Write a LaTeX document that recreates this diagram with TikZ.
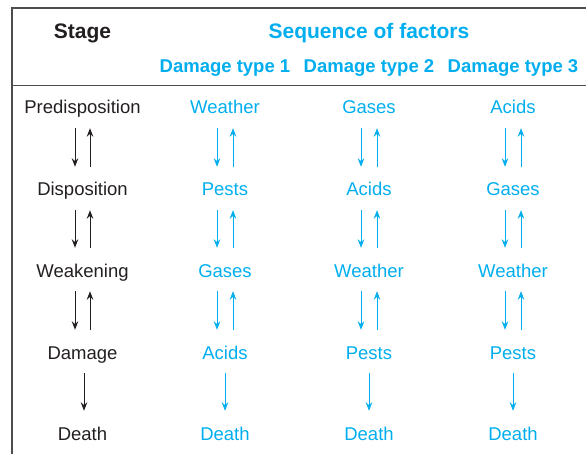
\documentclass[tikz,border=0pt]{standalone}
\usepackage{fontspec}
\setmainfont{Liberation Sans}
\usepackage{tikz}
\usetikzlibrary{arrows.meta}
\definecolor{factcyan}{HTML}{00AEEF}
\definecolor{inkgray}{HTML}{231F20}
\definecolor{rulegray}{HTML}{4D4D4D}

\begin{document}
\begin{tikzpicture}[
  x=1pt, y=1pt,
  every node/.style={font=\fontsize{18.5}{22}\selectfont, inner sep=0pt,
    anchor=base, text height=13pt, text depth=4pt},
  head/.style={font=\fontsize{21}{25}\selectfont\bfseries},
  subhead/.style={font=\fontsize{18.5}{22}\selectfont\bfseries, text=factcyan},
  stage/.style={text=inkgray},
  factor/.style={text=factcyan},
  downarrow/.style={-{Stealth[length=8.5pt,width=6.5pt]}, line width=1pt,
    shorten <=10pt, shorten >=16pt},
  uparrow/.style={{Stealth[length=8.5pt,width=6.5pt]}-, line width=1pt,
    shorten <=10pt, shorten >=16pt},
  blackarrow/.style={draw=inkgray},
  cyanarrow/.style={draw=factcyan}
]
  \useasboundingbox (0,0) rectangle (586,-454);

  % Frame and header rule
  \draw[rulegray, line width=1.2pt] (12,-454) -- (12,-8) -- (586,-8);
  \draw[rulegray, line width=1.2pt] (12,-85.5) -- (586,-85.5);

  % Header
  \node[head, text=inkgray] (stagehead) at (82.5,-39) {Stage};
  \node[head, text=factcyan] (seqhead) at (369,-39) {Sequence of factors};
  \node[subhead] (type1) at (225,-73) {Damage type 1};
  \node[subhead] (type2) at (369,-73) {Damage type 2};
  \node[subhead] (type3) at (513,-73) {Damage type 3};

  % Stage column
  \node[stage] (pre) at (82.5,-114) {Predisposition};
  \node[stage] (dis) at (82.5,-196) {Disposition};
  \node[stage] (weak) at (82.5,-277) {Weakening};
  \node[stage] (dmg) at (82.5,-359) {Damage};
  \node[stage] (dth) at (82.5,-440) {Death};

  % Damage type 1
  \node[factor] (weather1) at (225,-114) {Weather};
  \node[factor] (pests1) at (225,-196) {Pests};
  \node[factor] (gases1) at (225,-277) {Gases};
  \node[factor] (acids1) at (225,-359) {Acids};
  \node[factor] (death1) at (225,-440) {Death};

  % Damage type 2
  \node[factor] (gases2) at (369,-114) {Gases};
  \node[factor] (acids2) at (369,-196) {Acids};
  \node[factor] (weather2) at (369,-277) {Weather};
  \node[factor] (pests2) at (369,-359) {Pests};
  \node[factor] (death2) at (369,-440) {Death};

  % Damage type 3
  \node[factor] (acids3) at (513,-114) {Acids};
  \node[factor] (gases3) at (513,-196) {Gases};
  \node[factor] (weather3) at (513,-277) {Weather};
  \node[factor] (pests3) at (513,-359) {Pests};
  \node[factor] (death3) at (513,-440) {Death};

  % Two-way arrows between stages
  \draw[downarrow, blackarrow] ([xshift=-7.5pt]pre.south) -- ([xshift=-7.5pt]dis.north);
  \draw[uparrow, blackarrow] ([xshift=7.5pt]pre.south) -- ([xshift=7.5pt]dis.north);
  \draw[downarrow, blackarrow] ([xshift=-7.5pt]dis.south) -- ([xshift=-7.5pt]weak.north);
  \draw[uparrow, blackarrow] ([xshift=7.5pt]dis.south) -- ([xshift=7.5pt]weak.north);
  \draw[downarrow, blackarrow] ([xshift=-7.5pt]weak.south) -- ([xshift=-7.5pt]dmg.north);
  \draw[uparrow, blackarrow] ([xshift=7.5pt]weak.south) -- ([xshift=7.5pt]dmg.north);
  \draw[downarrow, blackarrow] ([xshift=1.5pt]dmg.south) -- ([xshift=1.5pt]dth.north);

  % Type 1 arrows
  \draw[downarrow, cyanarrow] ([xshift=-8pt]weather1.south) -- ([xshift=-8pt]pests1.north);
  \draw[uparrow, cyanarrow] ([xshift=8pt]weather1.south) -- ([xshift=8pt]pests1.north);
  \draw[downarrow, cyanarrow] ([xshift=-8pt]pests1.south) -- ([xshift=-8pt]gases1.north);
  \draw[uparrow, cyanarrow] ([xshift=8pt]pests1.south) -- ([xshift=8pt]gases1.north);
  \draw[downarrow, cyanarrow] ([xshift=-8pt]gases1.south) -- ([xshift=-8pt]acids1.north);
  \draw[uparrow, cyanarrow] ([xshift=8pt]gases1.south) -- ([xshift=8pt]acids1.north);
  \draw[downarrow, cyanarrow] (acids1.south) -- (death1.north);

  % Type 2 arrows
  \draw[downarrow, cyanarrow] ([xshift=-8pt]gases2.south) -- ([xshift=-8pt]acids2.north);
  \draw[uparrow, cyanarrow] ([xshift=8pt]gases2.south) -- ([xshift=8pt]acids2.north);
  \draw[downarrow, cyanarrow] ([xshift=-8pt]acids2.south) -- ([xshift=-8pt]weather2.north);
  \draw[uparrow, cyanarrow] ([xshift=8pt]acids2.south) -- ([xshift=8pt]weather2.north);
  \draw[downarrow, cyanarrow] ([xshift=-8pt]weather2.south) -- ([xshift=-8pt]pests2.north);
  \draw[uparrow, cyanarrow] ([xshift=8pt]weather2.south) -- ([xshift=8pt]pests2.north);
  \draw[downarrow, cyanarrow] (pests2.south) -- (death2.north);

  % Type 3 arrows
  \draw[downarrow, cyanarrow] ([xshift=-8pt]acids3.south) -- ([xshift=-8pt]gases3.north);
  \draw[uparrow, cyanarrow] ([xshift=8pt]acids3.south) -- ([xshift=8pt]gases3.north);
  \draw[downarrow, cyanarrow] ([xshift=-8pt]gases3.south) -- ([xshift=-8pt]weather3.north);
  \draw[uparrow, cyanarrow] ([xshift=8pt]gases3.south) -- ([xshift=8pt]weather3.north);
  \draw[downarrow, cyanarrow] ([xshift=-8pt]weather3.south) -- ([xshift=-8pt]pests3.north);
  \draw[uparrow, cyanarrow] ([xshift=8pt]weather3.south) -- ([xshift=8pt]pests3.north);
  \draw[downarrow, cyanarrow] (pests3.south) -- (death3.north);
\end{tikzpicture}
\end{document}
